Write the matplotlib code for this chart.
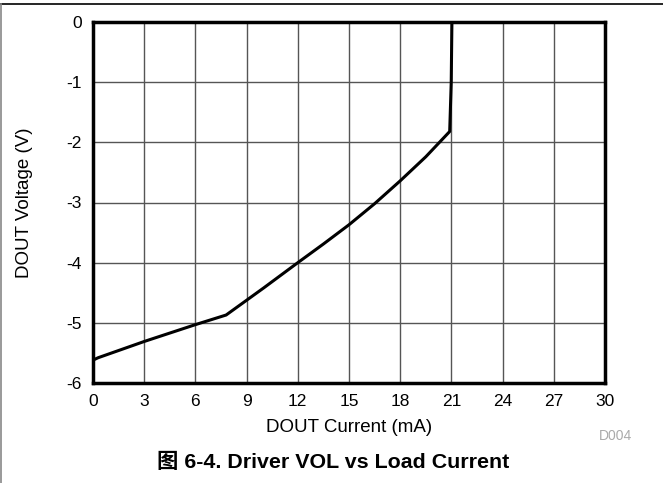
import matplotlib
matplotlib.use('Agg')
import matplotlib.pyplot as plt
from matplotlib.lines import Line2D

# DOUT current (mA) vs DOUT voltage (V)
current = [0, 0.3, 0.8, 3, 6, 7.8, 10, 12, 13.5, 15, 16.5, 18, 19.5, 20.9, 20.99, 21.03]
voltage = [-5.62, -5.58, -5.53, -5.31, -5.03, -4.87, -4.42, -4.0, -3.69, -3.37, -3.02, -2.64, -2.24, -1.82, -1.0, 0]

xticks = list(range(0, 31, 3))
yticks = list(range(-6, 1))

plt.rcParams['font.family'] = ['Liberation Sans', 'Noto Sans CJK SC', 'DejaVu Sans']
plt.rcParams['axes.unicode_minus'] = False

fig = plt.figure(figsize=(6.63, 4.83), dpi=100)
ax = fig.add_axes([93 / 663, 1 - 383 / 483, 512 / 663, 361 / 483])

ax.plot(current, voltage, color='black', lw=2.2, solid_joinstyle='round')

ax.set_xlim(0, 30)
ax.set_ylim(-6, 0)
ax.set_xticks(xticks)
ax.set_yticks(yticks)
ax.tick_params(length=0, labelsize=12.5, pad=8)
ax.grid(True, color='#555555', lw=1.0)
ax.set_axisbelow(True)
for s in ax.spines.values():
    s.set_linewidth(2.5)
    s.set_color('black')

ax.set_xlabel('DOUT Current (mA)', fontsize=13.5, labelpad=7)
ax.set_ylabel('DOUT Voltage (V)', fontsize=13.5, labelpad=24)

fig.text(615 / 663, 1 - 436 / 483, 'D004', fontsize=10, color='#aaaaaa',
         ha='center', va='center')
fig.text(333 / 663, 1 - 462 / 483, '图 6-4. Driver VOL vs Load Current',
         fontsize=15.4, fontweight='bold', ha='center', va='center')

# outer frame lines
fig.add_artist(Line2D([0, 1], [1 - 4 / 483, 1 - 4 / 483], color='black', lw=1.2,
                      transform=fig.transFigure))
fig.add_artist(Line2D([1 / 663, 1 / 663], [0, 1 - 4 / 483], color='#888888', lw=1.2,
                      transform=fig.transFigure))

fig.savefig('out.png', dpi=100)
